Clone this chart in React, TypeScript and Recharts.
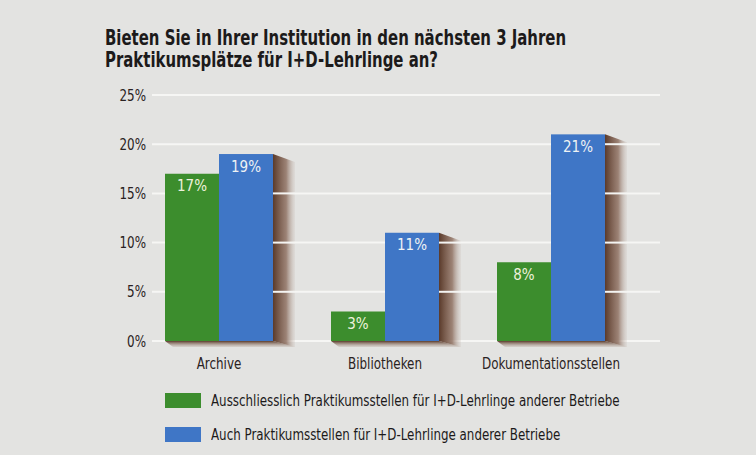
import { BarChart, Bar, XAxis, YAxis, CartesianGrid, LabelList } from 'recharts';

const categories = ['Archive', 'Bibliotheken', 'Dokumentationsstellen'];
const ausschliesslich = [17, 3, 8];
const auch = [19, 11, 21];
const yTicks = [0, 5, 10, 15, 20, 25];
const seriesNames = [
    'Ausschliesslich Praktikumsstellen für I+D-Lehrlinge anderer Betriebe',
    'Auch Praktikumsstellen für I+D-Lehrlinge anderer Betriebe',
];
const title = ['Bieten Sie in Ihrer Institution in den nächsten 3 Jahren', 'Praktikumsplätze für I+D-Lehrlinge an?'];

const data = categories.map((name, i) => ({ name, a: ausschliesslich[i], b: auch[i] }));

const GREEN = '#3c8d2d';
const BLUE = '#3f76c6';
const FONT = "'DejaVu Sans Condensed', 'DejaVu Sans', sans-serif";
const SQUEEZE = 0.83;

// blue bar + brown drop shadow to the right and below
const ShadowBar = (props: any) => {
    const { x, y, width, height, value } = props;
    if (!height) return null;
    const d = 22;
    const dy = 8;
    const base = y + height;
    const gx = x - width;
    const perUnit = height / value;
    const lines = yTicks
        .map((t) => base - t * perUnit)
        .filter((py) => py > y + dy && py < base);
    return (
        <g>
            <polygon
                points={`${gx},${base} ${gx + 8},${base + 6} ${x + width + d},${base + 6} ${x + width},${base}`}
                fill="url(#shadowDown)"
            />
            <polygon
                points={`${x + width},${y} ${x + width + d},${y + dy} ${x + width + d},${base + 6} ${x + width},${base}`}
                fill="url(#shadowSide)"
            />
            {lines.map((py) => (
                <line key={py} x1={x + width} x2={x + width + d} y1={py} y2={py} stroke="#f4f4f2" strokeWidth={2} />
            ))}
            <rect x={x} y={y} width={width} height={height} fill={BLUE} />
        </g>
    );
};

const XTick = ({ x, y, payload }: any) => (
    <g transform={`translate(${x},${y})`}>
        <text transform={`scale(${SQUEEZE},1)`} textAnchor="middle" dy="0.75em" fill="#2a2222" fontSize={16} fontFamily={FONT}>
            {payload.value}
        </text>
    </g>
);

const YTick = ({ x, y, payload }: any) => (
    <g transform={`translate(${x},${y})`}>
        <text transform={`scale(${SQUEEZE},1)`} textAnchor="end" dy="0.35em" fill="#2a2222" fontSize={16} fontFamily={FONT}>
            {`${payload.value}%`}
        </text>
    </g>
);

export default function App() {
    return (
        <div style={{ position: 'absolute', left: 0, top: 0, width: 756, height: 455, background: '#e3e3e1', fontFamily: FONT }}>
            <div
                style={{
                    position: 'absolute',
                    left: 105,
                    top: 27,
                    fontSize: 21,
                    lineHeight: '22px',
                    color: '#1c1a1a',
                    fontWeight: 'bold',
                    transform: 'scaleX(0.79)',
                    transformOrigin: 'left top',
                    whiteSpace: 'nowrap',
                }}
            >
                {title.map((t) => (
                    <div key={t}>{t}</div>
                ))}
            </div>
            <BarChart
                width={756}
                height={455}
                data={data}
                margin={{ top: 95, right: 96, bottom: 84, left: 92 }}
                barGap={0}
                barCategoryGap={29}
            >
                <defs>
                    <linearGradient id="shadowSide" x1="0" y1="0" x2="1" y2="0">
                        <stop offset="0%" stopColor="#5a3a2a" stopOpacity={1} />
                        <stop offset="60%" stopColor="#8a6a5a" stopOpacity={0.8} />
                        <stop offset="100%" stopColor="#c8bcb4" stopOpacity={0.2} />
                    </linearGradient>
                    <linearGradient id="shadowDown" x1="0" y1="0" x2="0" y2="1">
                        <stop offset="0%" stopColor="#5a3a2a" stopOpacity={1} />
                        <stop offset="100%" stopColor="#b8a89c" stopOpacity={0.3} />
                    </linearGradient>
                </defs>
                <CartesianGrid vertical={false} stroke="#f6f6f4" strokeWidth={2} />
                <XAxis
                    dataKey="name"
                    axisLine={false}
                    tickLine={false}
                    padding={{ left: -16, right: 26 }}
                    tickMargin={10}
                    tick={<XTick />}
                />
                <YAxis
                    domain={[0, 25]}
                    ticks={yTicks}
                    axisLine={false}
                    tickLine={false}
                    width={60}
                    tickSize={0}
                    tickMargin={6}
                    tick={<YTick />}
                />
                <Bar dataKey="a" fill={GREEN} barSize={54} isAnimationActive={false}>
                    <LabelList dataKey="a" position="insideTop" offset={7} formatter={(v: any) => `${v}%`} fill="#eef2dc" fontSize={15} fontFamily={FONT} />
                </Bar>
                <Bar dataKey="b" fill={BLUE} barSize={54} shape={ShadowBar} isAnimationActive={false}>
                    <LabelList dataKey="b" position="insideTop" offset={7} formatter={(v: any) => `${v}%`} fill="#eef2f4" fontSize={15} fontFamily={FONT} />
                </Bar>
            </BarChart>
            <div style={{ position: 'absolute', left: 165, top: 392, fontSize: 15, color: '#1c1a1a' }}>
                {seriesNames.map((n, i) => (
                    <div key={n} style={{ display: 'flex', alignItems: 'center', height: 17, marginBottom: 17 }}>
                        <span style={{ display: 'inline-block', width: 36, height: 15, background: i === 0 ? GREEN : BLUE, marginRight: 10 }} />
                        <span style={{ display: 'inline-block', transform: 'scaleX(0.88)', transformOrigin: 'left center', whiteSpace: 'nowrap' }}>{n}</span>
                    </div>
                ))}
            </div>
        </div>
    );
}
